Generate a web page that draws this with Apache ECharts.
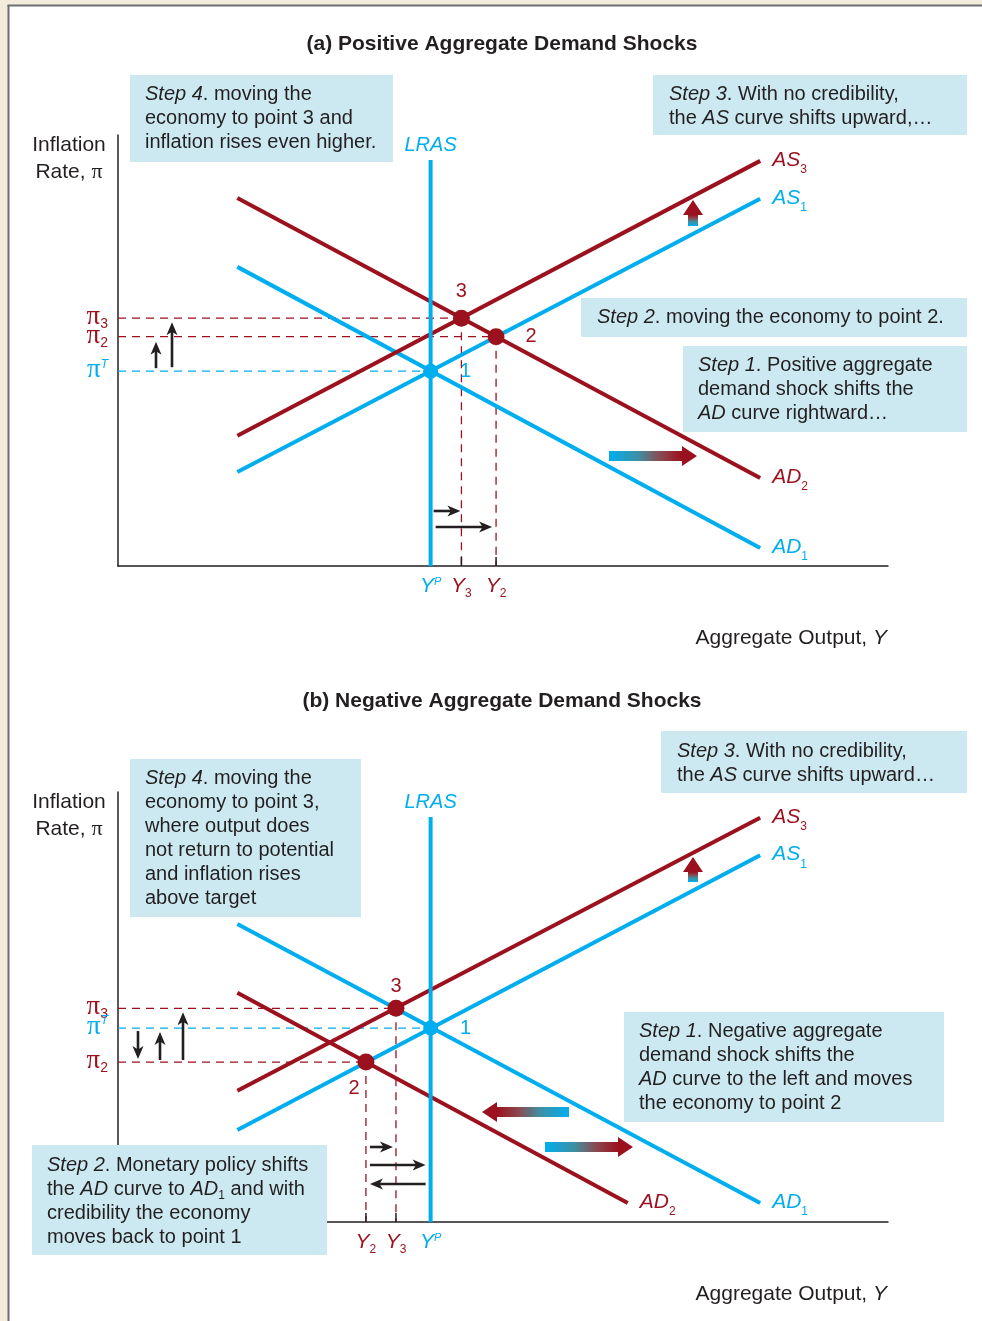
<!DOCTYPE html>
<html><head><meta charset="utf-8">
<script src="https://cdn.jsdelivr.net/npm/echarts@6/dist/echarts.min.js"></script>
<style>html,body{margin:0;padding:0;background:#f3ebdb}#c{width:982px;height:1321px}</style>
</head><body><div id="c"></div>
<script>
// ---------- DATA (x: aggregate output 0–100, y: inflation 0–100) ----------
const curveX = [15.5, 83.4];            // x where AS / AD curves start and end
// Panel (a)
const aAS1 = [21.8, 85.2];
const aAS3 = [30.2, 94.0];
const aAD1 = [69.4, 4.2];
const aAD2 = [85.4, 20.4];
const aLRAS = [40.6, 94.2];             // [x, top y]
const aP1 = [40.6, 45.2];
const aP2 = [49.1, 53.2];
const aP3 = [44.6, 57.5];
// Panel (b)
const bAS1 = [21.4, 85.3];
const bAS3 = [30.5, 94.0];
const bAD1 = [69.3, 4.4];
const bAD2x = [15.5, 66.2];
const bAD2 = [53.3, 4.4];
const bLRAS = [40.6, 94.2];
const bP1 = [40.6, 45.1];
const bP2 = [32.2, 37.2];
const bP3 = [36.1, 49.7];

const titles = ['(a) Positive Aggregate Demand Shocks', '(b) Negative Aggregate Demand Shocks'];
const stepsA = [
  ['*Step 4*. moving the', 'economy to point 3 and', 'inflation rises even higher.'],
  ['*Step 3*. With no credibility,', 'the *AS* curve shifts upward,…'],
  ['*Step 2*. moving the economy to point 2.'],
  ['*Step 1*. Positive aggregate', 'demand shock shifts the', '*AD* curve rightward…']
];
const stepsB = [
  ['*Step 3*. With no credibility,', 'the *AS* curve shifts upward…'],
  ['*Step 4*. moving the', 'economy to point 3,', 'where output does', 'not return to potential', 'and inflation rises', 'above target'],
  ['*Step 1*. Negative aggregate', 'demand shock shifts the', '*AD* curve to the left and moves', 'the economy to point 2'],
  ['*Step 2*. Monetary policy shifts', 'the *AD* curve to *AD*~1~ and with', 'credibility the economy', 'moves back to point 1']
];

// ---------- STYLE ----------
const RED = '#9b111e', BLUE = '#00aeef', INK = '#231f20', BOX = '#cce9f1';
const FS = '"Liberation Sans", Arial, Helvetica, sans-serif';
const SERIF = '"Liberation Serif", "DejaVu Serif", serif';

const chart = echarts.init(document.getElementById('c'), null, {renderer: 'canvas'});

function axisX(g){ return {gridIndex:g, type:'value', min:0, max:100, axisLine:{show:true, onZero:false, lineStyle:{color:INK, width:1.5}}, axisTick:{show:false}, axisLabel:{show:false}, splitLine:{show:false}}; }
function seg(g, data, color, width, type, z){
  return {type:'line', xAxisIndex:g, yAxisIndex:g, data, symbol:'none', silent:true, animation:false, z,
          lineStyle:{color, width, type: type || 'solid', cap:'butt'}};
}
function dot(g, p, color, size){
  return {type:'scatter', xAxisIndex:g, yAxisIndex:g, data:[p], symbolSize:size, silent:true, animation:false, z:10, itemStyle:{color, opacity:1}};
}
const DASH = [8, 6];
function panelSeries(g, AS1, AS3, AD1, AD2, AD2x, LRAS, P1, P2, P3){
  return [
    seg(g, [[0, P3[1]], P3], RED, 1.3, DASH, 1),
    seg(g, [[0, P2[1]], P2], RED, 1.3, DASH, 1),
    seg(g, [[0, P1[1]], P1], BLUE, 1.3, DASH, 1),
    seg(g, [P3, [P3[0], 0]], RED, 1.3, DASH, 1),
    seg(g, [P2, [P2[0], 0]], RED, 1.3, DASH, 1),
    seg(g, [[P3[0], 0], [P3[0], 2.1]], INK, 1.5, 'solid', 2),
    seg(g, [[P2[0], 0], [P2[0], 2.1]], INK, 1.5, 'solid', 2),
    seg(g, [[curveX[0], AS1[0]], [curveX[1], AS1[1]]], BLUE, 4, 'solid', 4),
    seg(g, [[curveX[0], AD1[0]], [curveX[1], AD1[1]]], BLUE, 4, 'solid', 4),
    seg(g, [[curveX[0], AS3[0]], [curveX[1], AS3[1]]], RED, 4, 'solid', 5),
    seg(g, [[AD2x[0], AD2[0]], [AD2x[1], AD2[1]]], RED, 4, 'solid', 5),
    seg(g, [[LRAS[0], 0], [LRAS[0], LRAS[1]]], BLUE, 4, 'solid', 6),
    dot(g, P1, BLUE, 15), dot(g, P2, RED, 17), dot(g, P3, RED, 17)
  ];
}

chart.setOption({
  backgroundColor: '#f3ebdb',
  animation: false,
  grid: [{left:118, top:135, width:770, height:431}, {left:118, top:792, width:770, height:430}],
  xAxis: [axisX(0), axisX(1)],
  yAxis: [axisX(0), axisX(1)],
  series: [].concat(
    panelSeries(0, aAS1, aAS3, aAD1, aAD2, curveX, aLRAS, aP1, aP2, aP3),
    panelSeries(1, bAS1, bAS3, bAD1, bAD2, bAD2x, bLRAS, bP1, bP2, bP3)
  )
});

// ---------- annotations ----------
const cv = document.createElement('canvas').getContext('2d');
function font(size, italic, bold, fam){ return (italic ? 'italic ' : '') + (bold ? 'bold ' : '') + size + 'px ' + (fam || FS); }
function W(t, f){ cv.font = f; return cv.measureText(t).width; }
const G = [];
function txt(t, x, y, f, c, z){
  G.push({type:'text', z: z || 110, silent:true,
    style:{text:t, x, y, font:f, fill:c, align:'left', verticalAlign:'middle', textAlign:'left', textVerticalAlign:'middle'}});
}
function place(parts, x, y, align){
  let total = 0; parts.forEach(p => { p.w = W(p.t, p.f); total += p.w + (p.gap || 0); });
  let cx = align === 'center' ? x - total / 2 : align === 'right' ? x - total : x;
  parts.forEach(p => { txt(p.t, cx, y + (p.dy || 0), p.f, p.c); cx += p.w + (p.gap || 0); });
}
function md(str, size, color){
  const parts = [];
  str.split(/(\*[^*]+\*|~[^~]+~)/).forEach(s => {
    if (!s) return;
    if (s[0] === '*') parts.push({t:s.slice(1, -1), f:font(size, true), c:color});
    else if (s[0] === '~') parts.push({t:s.slice(1, -1), f:font(12), c:color, dy:7});
    else parts.push({t:s, f:font(size), c:color});
  });
  return parts;
}
function box(x, y, w, h, lines, tx, ty){
  G.push({type:'rect', z:100, silent:true, shape:{x, y, width:w, height:h}, style:{fill:BOX}});
  lines.forEach((l, i) => place(md(l, 20, INK), tx, ty + i * 24, 'left'));
}
function arrow(x1, y1, x2, y2){
  const dx = x2 - x1, dy = y2 - y1, L = Math.hypot(dx, dy), ux = dx / L, uy = dy / L;
  const hl = 13, hw = 5.5;
  const bx = x2 - ux * hl, by = y2 - uy * hl;
  G.push({type:'line', z:105, silent:true, shape:{x1, y1, x2:bx + ux * 4, y2:by + uy * 4}, style:{stroke:INK, lineWidth:2.6}});
  G.push({type:'polygon', z:106, silent:true, shape:{points:[[x2, y2], [bx - uy * hw, by + ux * hw], [bx + ux * 3.5, by + uy * 3.5], [bx + uy * hw, by - ux * hw]]}, style:{fill:INK}});
}
function garrow(x1, y1, x2, y2){
  const dx = x2 - x1, dy = y2 - y1, L = Math.hypot(dx, dy), ux = dx / L, uy = dy / L;
  const hl = 15, hw = 10, sw = 5;
  const bx = x2 - ux * hl, by = y2 - uy * hl;
  const px = -uy, py = ux;
  const pts = [
    [x1 + px * sw, y1 + py * sw], [bx + px * sw, by + py * sw], [bx + px * hw, by + py * hw], [x2, y2],
    [bx - px * hw, by - py * hw], [bx - px * sw, by - py * sw], [x1 - px * sw, y1 - py * sw]
  ];
  G.push({type:'polygon', z:105, silent:true, shape:{points:pts},
    style:{fill: new echarts.graphic.LinearGradient(x1, y1, bx, by, [{offset:0, color:BLUE}, {offset:0.4, color:'#3e8fa3'}, {offset:0.7, color:'#8a4a50'}, {offset:1, color:RED}], true)}});
}
const P = (g, p) => chart.convertToPixel({gridIndex:g}, p);

// page panel
G.push({type:'rect', z:-100, silent:true, shape:{x:8, y:5, width:974, height:1316}, style:{fill:'#ffffff'}});
G.push({type:'line', z:-99, silent:true, shape:{x1:7.5, y1:5.5, x2:982, y2:5.5}, style:{stroke:'#6d6e70', lineWidth:2}});
G.push({type:'line', z:-99, silent:true, shape:{x1:8.5, y1:5, x2:8.5, y2:1321}, style:{stroke:'#6d6e70', lineWidth:2}});

function panelText(g, title, AS1, AS3, AD1, AD2, AD2x, LRAS, P1, P2, P3, titleY, outY){
  place([{t:title, f:font(21, false, true), c:INK}], 502, titleY, 'center');
  const o = P(g, [0, 0]);
  const top = P(g, [0, 100]);
  // y-axis title
  place([{t:'Inflation', f:font(21), c:INK}], 69, top[1] + 10, 'center');
  place([{t:'Rate, ', f:font(21), c:INK}, {t:'π', f:font(22, false, false, SERIF), c:INK}], 69, top[1] + 37, 'center');
  // x-axis title
  place([{t:'Aggregate Output, ', f:font(21), c:INK}, {t:'Y', f:font(21, true), c:INK}], 887, outY, 'right');
  // curve labels
  const lab = (pt, main, sub, color, dx) => {
    place([{t:main, f:font(21, true), c:color}, {t:sub, f:font(12), c:color, dy:10, gap:0}], pt[0] + dx, pt[1] - 1, 'left');
  };
  lab(P(g, [curveX[1], AS3[1]]), 'AS', '3', RED, 12);
  lab(P(g, [curveX[1], AS1[1]]), 'AS', '1', BLUE, 12);
  lab(P(g, [AD2x[1], AD2[1]]), 'AD', '2', RED, 12);
  lab(P(g, [curveX[1], AD1[1]]), 'AD', '1', BLUE, 12);
  const lr = P(g, [LRAS[0], LRAS[1]]);
  place([{t:'LRAS', f:font(20, true), c:BLUE}], lr[0], lr[1] - 15, 'center');
  // pi labels
  const piF = font(27, false, false, SERIF);
  const pl = (p, sub, color, sup) => {
    const y = P(g, p)[1];
    const parts = [{t:'π', f:piF, c:color, dy:-1}];
    if (sup) parts.push({t:sub, f:font(12, true), c:color, dy:-7});
    else parts.push({t:sub, f:font(14), c:color, dy:6});
    place(parts, 108, y, 'right');
  };
  pl(P3, '3', RED); pl(P2, '2', RED); pl(P1, 'T', BLUE, true);
  // Y labels
  const yl = (p, sub, color, sup) => {
    const x = P(g, p)[0];
    const parts = [{t:'Y', f:font(21, true), c:color}];
    if (sup) parts.push({t:sub, f:font(11, true), c:color, dy:-4});
    else parts.push({t:sub, f:font(12), c:color, dy:8});
    place(parts, x, o[1] + 20, 'center');
  };
  yl(P1, 'P', BLUE, true); yl(P3, '3', RED); yl(P2, '2', RED);
  return {o, top};
}

// ---- panel (a)
panelText(0, titles[0], aAS1, aAS3, aAD1, aAD2, curveX, aLRAS, aP1, aP2, aP3, 44, 638);
{
  const p1 = P(0, aP1), p2 = P(0, aP2), p3 = P(0, aP3);
  place([{t:'3', f:font(20), c:RED}], p3[0], p3[1] - 27, 'center');
  place([{t:'2', f:font(20), c:RED}], p2[0] + 35, p2[1], 'center');
  place([{t:'1', f:font(20), c:BLUE}], p1[0] + 35, p1[1], 'center');
  arrow(156, p1[1] - 3, 156, p2[1] + 5);
  arrow(172, p1[1] - 4, 172, p3[1] + 4);
  arrow(p1[0] + 3, 511, p3[0] - 1, 511);
  arrow(p1[0] + 5, 527, p2[0] - 4, 527);
  garrow(609, 456, 697, 456);
  garrow(693, 226, 693, 200);
  box(130, 75, 263, 87, stepsA[0], 145, 94);
  box(653, 75, 314, 60, stepsA[1], 669, 94);
  box(581, 298, 386, 39, stepsA[2], 597, 317);
  box(683, 346, 284, 86, stepsA[3], 698, 365);
}
// ---- panel (b)
panelText(1, titles[1], bAS1, bAS3, bAD1, bAD2, bAD2x, bLRAS, bP1, bP2, bP3, 701, 1294);
{
  const p1 = P(1, bP1), p2 = P(1, bP2), p3 = P(1, bP3);
  place([{t:'3', f:font(20), c:RED}], p3[0], p3[1] - 22, 'center');
  place([{t:'1', f:font(20), c:BLUE}], p1[0] + 35, p1[1], 'center');
  place([{t:'2', f:font(20), c:RED}], p2[0] - 12, p2[1] + 26, 'center');
  arrow(138, p1[1] + 3, 138, p2[1] - 3);
  arrow(160, p2[1] - 2, 160, p1[1] + 4);
  arrow(183, p2[1] - 2, 183, p3[1] + 4);
  arrow(p2[0] + 4, 1147, p3[0] - 3, 1147);
  arrow(p2[0] + 4, 1165, p1[0] - 5, 1165);
  arrow(p1[0] - 5, 1184, p2[0] + 4, 1184);
  garrow(569, 1112, 482, 1112);
  garrow(545, 1147, 633, 1147);
  garrow(693, 882, 693, 857);
  box(661, 731, 306, 62, stepsB[0], 677, 751);
  box(130, 759, 231, 158, stepsB[1], 145, 778);
  box(624, 1012, 320, 110, stepsB[2], 639, 1031);
  box(32, 1145, 295, 110, stepsB[3], 47, 1165);
}

chart.setOption({graphic: {elements: G}});
</script>
</body></html>
